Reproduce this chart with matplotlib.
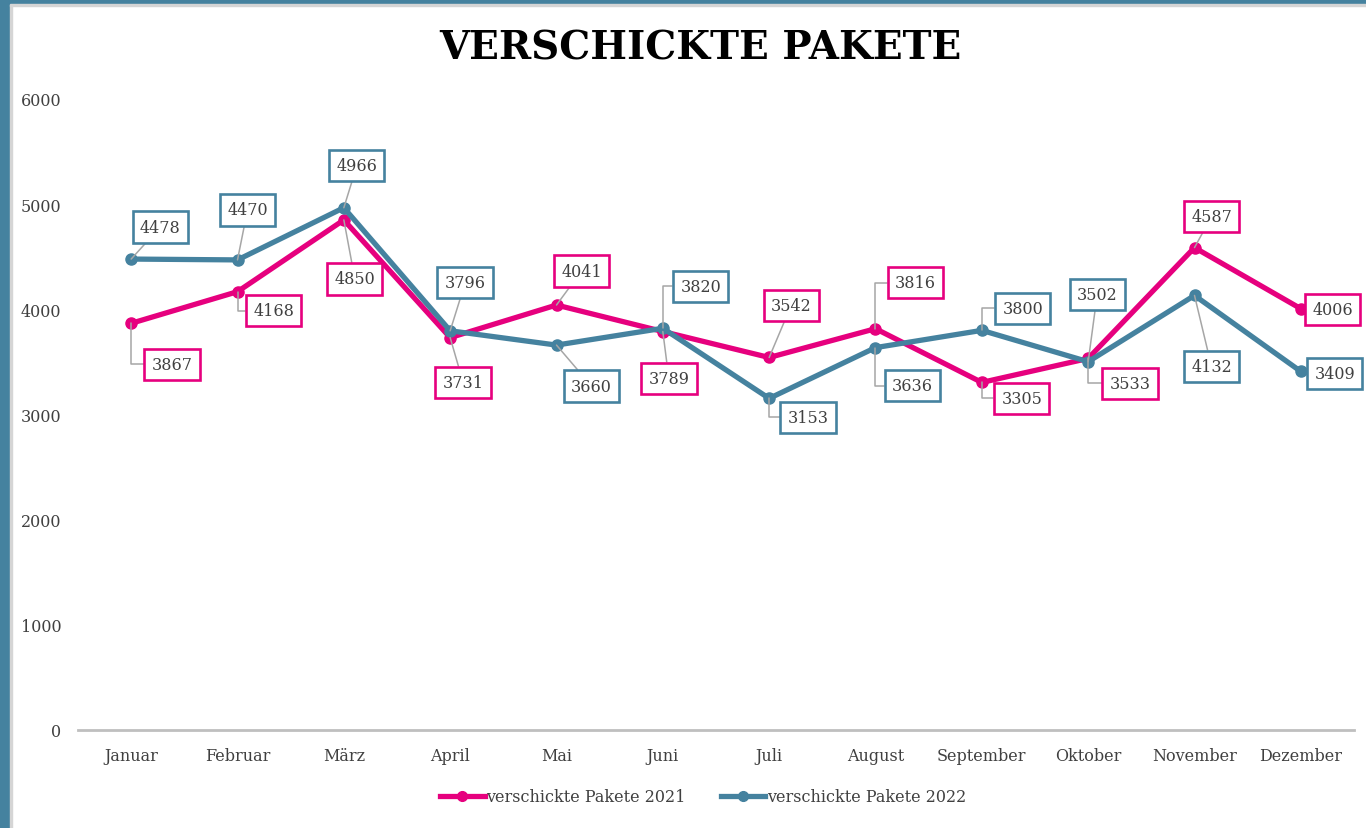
import matplotlib
matplotlib.use("Agg")
import matplotlib.pyplot as plt
from matplotlib.patches import Rectangle
from matplotlib.lines import Line2D

# ---- data ----
months = ["Januar", "Februar", "März", "April", "Mai", "Juni", "Juli",
          "August", "September", "Oktober", "November", "Dezember"]
pakete_2021 = [3867, 4168, 4850, 3731, 4041, 3789, 3542, 3816, 3305, 3533, 4587, 4006]
pakete_2022 = [4478, 4470, 4966, 3796, 3660, 3820, 3153, 3636, 3800, 3502, 4132, 3409]
yticks = [0, 1000, 2000, 3000, 4000, 5000, 6000]
title = "VERSCHICKTE PAKETE"
series_names = ["verschickte Pakete 2021", "verschickte Pakete 2022"]

# ---- label placement (pixel offsets of the label box centre from the point; up = +) ----
off_2021 = [(41, -41), (36, -19), (11, -59), (13, -45), (25, 34), (6, -47),
            (22, 52), (40, 46), (40, -16), (42, -25), (17, 31), (32, -1)]
elbow_2021 = [True, True, False, False, False, False,
              False, True, True, True, False, False]
off_2022 = [(29, 32), (10, 50), (13, 42), (15, 48), (35, -41), (38, 42),
            (39, -19), (37, -38), (41, 22), (9, 67), (17, -71), (34, -2)]
elbow_2022 = [False, False, False, False, False, True,
              True, True, True, False, False, False]

PINK = "#E6007E"
BLUE = "#45829F"
TEXT = "#404040"
FONT = "DejaVu Serif"

W, H = 1366, 829
fig = plt.figure(figsize=(W / 100, H / 100), dpi=100)
fig.patch.set_facecolor("white")

# frame decorations
fig.patches.append(Rectangle((0, 0), 10 / W, 1, transform=fig.transFigure, color=BLUE, zorder=0))
fig.patches.append(Rectangle((10 / W, 0), 2 / W, 1 - 5 / H, transform=fig.transFigure, color="#D5D5D5", zorder=0))
fig.patches.append(Rectangle((0, 1 - 5 / H), 1, 5 / H, transform=fig.transFigure, color=BLUE, zorder=0))
fig.patches.append(Rectangle((10 / W, 1 - 7 / H), 1, 2 / H, transform=fig.transFigure, color="#D5D5D5", zorder=0))

ax = fig.add_axes([78 / W, 1 - 731 / H, (1354 - 78) / W, (731 - 100) / H])
ax.set_facecolor("none")
x = list(range(len(months)))

ax.plot(x, pakete_2021, color=PINK, lw=3.8, marker="o", ms=8, solid_capstyle="round", zorder=3)
ax.plot(x, pakete_2022, color=BLUE, lw=3.8, marker="o", ms=8, solid_capstyle="round", zorder=4)

ax.set_xlim(-0.5, len(months) - 0.5)
ax.set_ylim(0, 6000)
ax.set_yticks(yticks)
ax.set_xticks(x)
ax.set_xticklabels(months)
for s in ["top", "right", "left"]:
    ax.spines[s].set_visible(False)
ax.spines["bottom"].set_color("#BFBFBF")
ax.spines["bottom"].set_linewidth(2.0)
ax.tick_params(axis="both", length=0, labelsize=11.5, colors=TEXT)
ax.tick_params(axis="y", pad=12)
ax.tick_params(axis="x", pad=12)
for lab in ax.get_xticklabels() + ax.get_yticklabels():
    lab.set_fontfamily(FONT)


def add_labels(vals, offs, elbows, color):
    for i, (v, (dx, dy), el) in enumerate(zip(vals, offs, elbows)):
        arrow = None
        if abs(dy) >= 8:
            arrow = dict(arrowstyle="-", color="#A6A6A6", lw=1.1, shrinkA=0, shrinkB=0,
                         connectionstyle="angle,angleA=0,angleB=90,rad=0" if el else "arc3")
        ax.annotate(str(v), xy=(i, v), xytext=(dx * 0.72, dy * 0.72), textcoords="offset points",
                    ha="center", va="center", fontsize=11.5, color=TEXT, family=FONT,
                    bbox=dict(boxstyle="square,pad=0.45", fc="white", ec=color, lw=1.9),
                    arrowprops=arrow, zorder=6, annotation_clip=False)


add_labels(pakete_2021, off_2021, elbow_2021, PINK)
add_labels(pakete_2022, off_2022, elbow_2022, BLUE)

fig.text(700 / W, 1 - 48 / H, title, ha="center", va="center", fontsize=28,
         fontweight="bold", family=FONT, color="black")

handles = [Line2D([], [], color=PINK, lw=3.8, marker="o", ms=7),
           Line2D([], [], color=BLUE, lw=3.8, marker="o", ms=7)]
leg = fig.legend(handles, series_names, loc="center", bbox_to_anchor=(703 / W, 1 - 798 / H),
                 ncol=2, frameon=False, handlelength=2.8, handletextpad=0.1, columnspacing=2.2,
                 prop={"family": FONT, "size": 11.5})
for t in leg.get_texts():
    t.set_color(TEXT)

fig.savefig("out.png", dpi=100, facecolor="white")
